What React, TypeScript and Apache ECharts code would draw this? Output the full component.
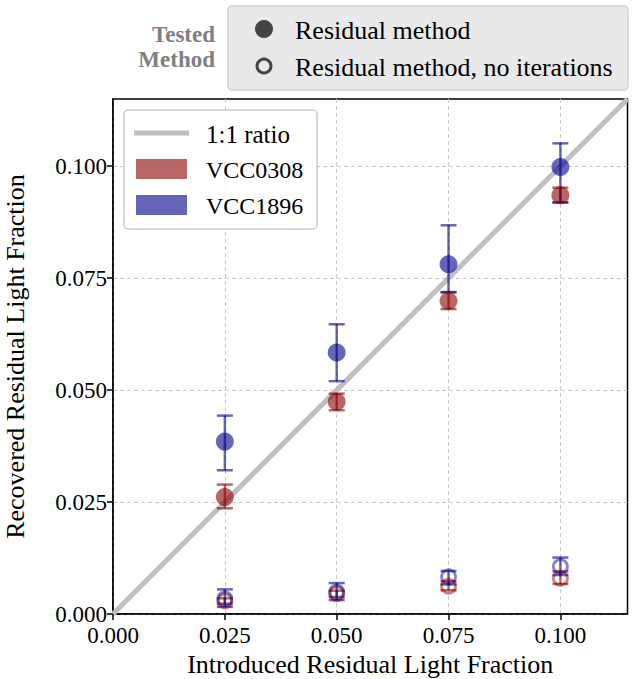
import React, { useEffect, useRef } from "react";
import * as echarts from "echarts";

// ---- data ----
const introduced = [0.025, 0.05, 0.075, 0.1];
const tickValues = [0, 0.025, 0.05, 0.075, 0.1];

// Residual method (filled markers)
const vcc0308Res = [0.0261, 0.0474, 0.0699, 0.0935];
const vcc0308ResLow = [0.0236, 0.0455, 0.0681, 0.0919];
const vcc0308ResHigh = [0.0289, 0.0492, 0.0718, 0.0952];
const vcc1896Res = [0.0385, 0.0584, 0.0781, 0.0998];
const vcc1896ResLow = [0.0321, 0.052, 0.0719, 0.0919];
const vcc1896ResHigh = [0.0443, 0.0647, 0.0868, 0.1051];

// Residual method, no iterations (open markers)
const vcc0308NoIt = [0.0029, 0.0045, 0.0062, 0.008];
const vcc0308NoItLow = [0.0023, 0.0038, 0.0053, 0.0067];
const vcc0308NoItHigh = [0.0035, 0.0052, 0.0073, 0.0095];
const vcc1896NoIt = [0.0034, 0.0049, 0.0083, 0.0106];
const vcc1896NoItLow = [0.0016, 0.0031, 0.0066, 0.0087];
const vcc1896NoItHigh = [0.0055, 0.0069, 0.0096, 0.0126];

const ratioLine = [
  [0, 0],
  [0.115, 0.115],
];

const RED = "rgba(139,0,0,0.6)";
const BLUE = "rgba(0,0,139,0.6)";
const FONT = "'Liberation Serif', 'DejaVu Serif', serif";

function errData(low: number[], high: number[]) {
  return introduced.map((x, i) => [x, low[i], high[i]]);
}
function ptData(vals: number[]) {
  return introduced.map((x, i) => [x, vals[i]]);
}

function errSeries(name: string, low: number[], high: number[], color: string) {
  return {
    type: "custom",
    name,
    data: errData(low, high),
    encode: { x: 0, y: [1, 2] },
    z: 3,
    renderItem: (params: any, api: any) => {
      const x = api.value(0);
      const lo = api.coord([x, api.value(1)]);
      const hi = api.coord([x, api.value(2)]);
      const cap = 8;
      const style = { stroke: color, lineWidth: 2.5 };
      return {
        type: "group",
        children: [
          { type: "line", shape: { x1: lo[0], y1: lo[1], x2: hi[0], y2: hi[1] }, style },
          { type: "line", shape: { x1: lo[0] - cap, y1: lo[1], x2: lo[0] + cap, y2: lo[1] }, style },
          { type: "line", shape: { x1: hi[0] - cap, y1: hi[1], x2: hi[0] + cap, y2: hi[1] }, style },
        ],
      };
    },
  };
}

function filled(name: string, vals: number[], color: string) {
  return {
    type: "scatter",
    name,
    data: ptData(vals),
    symbol: "circle",
    symbolSize: 18,
    itemStyle: { color, opacity: 1 },
    z: 4,
  };
}

function open(name: string, vals: number[], color: string) {
  return {
    type: "scatter",
    name,
    data: ptData(vals),
    symbol: "circle",
    symbolSize: 14,
    itemStyle: { color: "rgba(0,0,0,0)", borderColor: color, borderWidth: 2.8 },
    z: 4,
  };
}

export default function App() {
  const ref = useRef<HTMLDivElement>(null);
  useEffect(() => {
    if (!ref.current) return;
    const chart = echarts.init(ref.current, undefined, { renderer: "svg" });
    const axisCommon = {
      type: "value",
      min: 0,
      max: 0.115,
      interval: 0.025,
      axisLine: { show: true, lineStyle: { color: "#000", width: 1.5 } },
      axisTick: {
        show: true,
        length: 6,
        inside: false,
        customValues: tickValues,
        lineStyle: { color: "#000", width: 1.5 },
      },
      axisLabel: {
        customValues: tickValues,
        formatter: (v: number) => v.toFixed(3),
        color: "#000",
        fontFamily: FONT,
        fontSize: 23,
        lineHeight: 20,
      },
      splitLine: {
        show: true,
        lineStyle: { color: "#c8c8c8", type: [4, 3], width: 1 },
      },
      nameLocation: "middle",
      nameTextStyle: { fontFamily: FONT, fontSize: 26, color: "#000", lineHeight: 24 },
    };
    chart.setOption({
      animation: false,
      grid: {
        left: 113,
        right: 5.5,
        top: 99,
        bottom: 65,
        containLabel: false,
        outerBoundsMode: "none",
        show: true,
        borderColor: "#000",
        borderWidth: 1.5,
        backgroundColor: "transparent",
      },
      xAxis: {
        ...axisCommon,
        name: "Introduced Residual Light Fraction",
        nameGap: 38,
        axisLabel: { ...axisCommon.axisLabel, margin: 11 },
      },
      yAxis: {
        ...axisCommon,
        name: "Recovered Residual Light Fraction",
        nameGap: 86,
        axisLabel: { ...axisCommon.axisLabel, margin: 6 },
      },
      series: [
        {
          type: "line",
          name: "1:1 ratio",
          data: ratioLine,
          symbol: "none",
          lineStyle: { color: "#bfbfbf", width: 5 },
          z: 2,
          silent: true,
        },
        errSeries("VCC0308 err", vcc0308ResLow, vcc0308ResHigh, RED),
        filled("VCC0308", vcc0308Res, RED),
        errSeries("VCC0308 noit err", vcc0308NoItLow, vcc0308NoItHigh, RED),
        open("VCC0308 no iterations", vcc0308NoIt, RED),
        errSeries("VCC1896 err", vcc1896ResLow, vcc1896ResHigh, BLUE),
        filled("VCC1896", vcc1896Res, BLUE),
        errSeries("VCC1896 noit err", vcc1896NoItLow, vcc1896NoItHigh, BLUE),
        open("VCC1896 no iterations", vcc1896NoIt, BLUE),
      ],
      graphic: [
        // top legend
        {
          type: "text",
          x: 215,
          y: 34.5,
          style: {
            text: "Tested",
            fill: "#808080",
            fontFamily: FONT,
            fontSize: 23,
            fontWeight: "bold",
            align: "right",
            verticalAlign: "middle",
          },
        },
        {
          type: "text",
          x: 215,
          y: 59.5,
          style: {
            text: "Method",
            fill: "#808080",
            fontFamily: FONT,
            fontSize: 23,
            fontWeight: "bold",
            align: "right",
            verticalAlign: "middle",
          },
        },
        {
          type: "rect",
          shape: { x: 228, y: 6, width: 400, height: 84, r: 4 },
          style: { fill: "#e9e9e9", stroke: "#d2d2d2", lineWidth: 1.5 },
        },
        {
          type: "circle",
          shape: { cx: 264, cy: 29, r: 9 },
          style: { fill: "#444444" },
        },
        {
          type: "circle",
          shape: { cx: 264, cy: 66, r: 7 },
          style: { fill: "none", stroke: "#444444", lineWidth: 3 },
        },
        {
          type: "text",
          x: 295,
          y: 30,
          style: {
            text: "Residual method",
            fill: "#000",
            font: `26px ${FONT}`,
            verticalAlign: "middle",
          },
        },
        {
          type: "text",
          x: 295,
          y: 67,
          style: {
            text: "Residual method, no iterations",
            fill: "#000",
            font: `26px ${FONT}`,
            verticalAlign: "middle",
          },
        },
        // inner legend
        {
          type: "rect",
          z: 10,
          shape: { x: 124, y: 110, width: 193, height: 119, r: 4 },
          style: { fill: "rgba(255,255,255,0.85)", stroke: "#cccccc", lineWidth: 1.5 },
        },
        {
          type: "line",
          z: 11,
          shape: { x1: 134, y1: 133, x2: 189, y2: 133 },
          style: { stroke: "#bfbfbf", lineWidth: 5 },
        },
        {
          type: "rect",
          z: 11,
          shape: { x: 136, y: 159, width: 51, height: 20 },
          style: { fill: RED },
        },
        {
          type: "rect",
          z: 11,
          shape: { x: 136, y: 195, width: 51, height: 20 },
          style: { fill: BLUE },
        },
        {
          type: "text",
          z: 11,
          x: 206,
          y: 134,
          style: { text: "1:1 ratio", fill: "#000", font: `25px ${FONT}`, verticalAlign: "middle" },
        },
        {
          type: "text",
          z: 11,
          x: 206,
          y: 170,
          style: { text: "VCC0308", fill: "#000", font: `24px ${FONT}`, verticalAlign: "middle" },
        },
        {
          type: "text",
          z: 11,
          x: 206,
          y: 206,
          style: { text: "VCC1896", fill: "#000", font: `24px ${FONT}`, verticalAlign: "middle" },
        },
      ],
    });
    return () => chart.dispose();
  }, []);
  return (
    <div
      ref={ref}
      style={{ position: "fixed", left: 0, top: 0, width: 633, height: 679, background: "#fff" }}
    />
  );
}
